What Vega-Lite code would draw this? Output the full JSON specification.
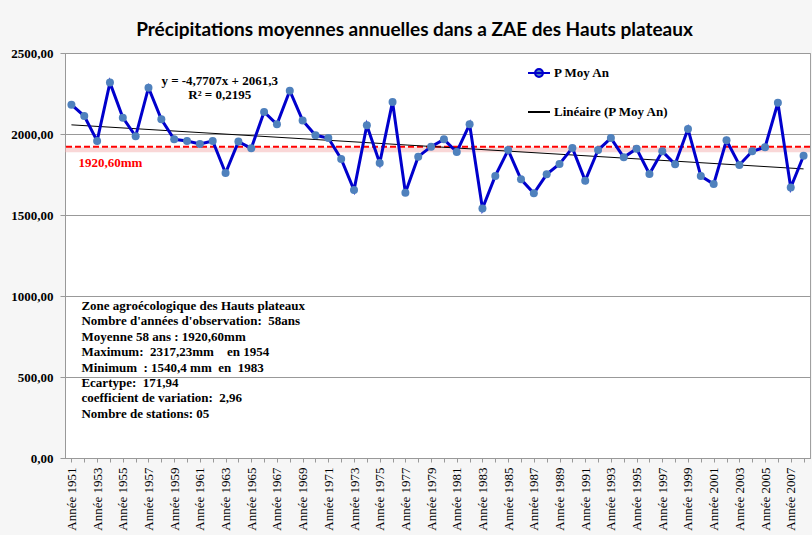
{
  "$schema": "https://vega.github.io/schema/vega-lite/v6.json",
  "width": 745,
  "height": 405,
  "autosize": {"type": "none"},
  "padding": {"left": 65, "top": 53, "right": 2, "bottom": 77},
  "background": "#f6f6f6",
  "title": {
    "text": "Précipitations moyennes annuelles dans a ZAE des Hauts  plateaux",
    "font": "Lato",
    "fontSize": 19,
    "fontWeight": "bold",
    "color": "#000000",
    "anchor": "middle",
    "offset": 7,
    "dx": -23
  },
  "config": {
    "view": {"fill": "#ffffff", "stroke": "#a0a0a0"}
  },
  "datasets": {
    "obs": [
      {"year": 1951, "p": 2181, "serie": "P Moy An"},
      {"year": 1952, "p": 2111, "serie": "P Moy An"},
      {"year": 1953, "p": 1957, "serie": "P Moy An"},
      {"year": 1954, "p": 2317.23, "serie": "P Moy An"},
      {"year": 1955, "p": 2101, "serie": "P Moy An"},
      {"year": 1956, "p": 1986, "serie": "P Moy An"},
      {"year": 1957, "p": 2286, "serie": "P Moy An"},
      {"year": 1958, "p": 2091, "serie": "P Moy An"},
      {"year": 1959, "p": 1967, "serie": "P Moy An"},
      {"year": 1960, "p": 1957, "serie": "P Moy An"},
      {"year": 1961, "p": 1938, "serie": "P Moy An"},
      {"year": 1962, "p": 1957, "serie": "P Moy An"},
      {"year": 1963, "p": 1759, "serie": "P Moy An"},
      {"year": 1964, "p": 1953, "serie": "P Moy An"},
      {"year": 1965, "p": 1912, "serie": "P Moy An"},
      {"year": 1966, "p": 2136, "serie": "P Moy An"},
      {"year": 1967, "p": 2060, "serie": "P Moy An"},
      {"year": 1968, "p": 2267, "serie": "P Moy An"},
      {"year": 1969, "p": 2084, "serie": "P Moy An"},
      {"year": 1970, "p": 1992, "serie": "P Moy An"},
      {"year": 1971, "p": 1975, "serie": "P Moy An"},
      {"year": 1972, "p": 1846, "serie": "P Moy An"},
      {"year": 1973, "p": 1654, "serie": "P Moy An"},
      {"year": 1974, "p": 2054, "serie": "P Moy An"},
      {"year": 1975, "p": 1821, "serie": "P Moy An"},
      {"year": 1976, "p": 2198, "serie": "P Moy An"},
      {"year": 1977, "p": 1638, "serie": "P Moy An"},
      {"year": 1978, "p": 1860, "serie": "P Moy An"},
      {"year": 1979, "p": 1922, "serie": "P Moy An"},
      {"year": 1980, "p": 1967, "serie": "P Moy An"},
      {"year": 1981, "p": 1889, "serie": "P Moy An"},
      {"year": 1982, "p": 2060, "serie": "P Moy An"},
      {"year": 1983, "p": 1540.4, "serie": "P Moy An"},
      {"year": 1984, "p": 1741, "serie": "P Moy An"},
      {"year": 1985, "p": 1901, "serie": "P Moy An"},
      {"year": 1986, "p": 1720, "serie": "P Moy An"},
      {"year": 1987, "p": 1634, "serie": "P Moy An"},
      {"year": 1988, "p": 1751, "serie": "P Moy An"},
      {"year": 1989, "p": 1815, "serie": "P Moy An"},
      {"year": 1990, "p": 1914, "serie": "P Moy An"},
      {"year": 1991, "p": 1712, "serie": "P Moy An"},
      {"year": 1992, "p": 1901, "serie": "P Moy An"},
      {"year": 1993, "p": 1975, "serie": "P Moy An"},
      {"year": 1994, "p": 1856, "serie": "P Moy An"},
      {"year": 1995, "p": 1909, "serie": "P Moy An"},
      {"year": 1996, "p": 1753, "serie": "P Moy An"},
      {"year": 1997, "p": 1893, "serie": "P Moy An"},
      {"year": 1998, "p": 1813, "serie": "P Moy An"},
      {"year": 1999, "p": 2031, "serie": "P Moy An"},
      {"year": 2000, "p": 1741, "serie": "P Moy An"},
      {"year": 2001, "p": 1691, "serie": "P Moy An"},
      {"year": 2002, "p": 1961, "serie": "P Moy An"},
      {"year": 2003, "p": 1809, "serie": "P Moy An"},
      {"year": 2004, "p": 1893, "serie": "P Moy An"},
      {"year": 2005, "p": 1918, "serie": "P Moy An"},
      {"year": 2006, "p": 2193, "serie": "P Moy An"},
      {"year": 2007, "p": 1669, "serie": "P Moy An"},
      {"year": 2008, "p": 1866, "serie": "P Moy An"}
    ],
    "trend": [
      {"year": 1951, "p": 2056.5, "serie": "Linéaire (P Moy An)"},
      {"year": 2008, "p": 1784.6, "serie": "Linéaire (P Moy An)"}
    ],
    "mean": [{"p": 1920.6}],
    "eq": [
      {"year": 1962, "p": 2329, "label": "y = -4,7707x + 2061,3"},
      {"year": 1962, "p": 2241, "label": "R² = 0,2195"}
    ],
    "meanlabel": [{"year": 1951, "p": 1823, "label": "1920,60mm"}],
    "stats": [
      {"year": 1951, "p": 975, "label": [
        "Zone agroécologique des Hauts plateaux",
        "Nombre d'années d'observation:\u00a0 58ans",
        "Moyenne 58 ans : 1920,60mm",
        "Maximum:\u00a0 2317,23mm\u00a0\u00a0\u00a0 en 1954",
        "Minimum\u00a0 : 1540,4 mm\u00a0 en\u00a0 1983",
        "Ecartype:\u00a0 171,94",
        "coefficient de variation:\u00a0 2,96",
        "Nombre de stations: 05"
      ]}
    ]
  },
  "layer": [
    {
      "data": {"name": "mean"},
      "mark": {"type": "rule", "color": "#f3b0b0", "strokeWidth": 5, "opacity": 0.5, "yOffset": 3},
      "encoding": {
        "y": {"field": "p", "type": "quantitative", "scale": {"domain": [0, 2500], "nice": false}}
      }
    },
    {
      "data": {"name": "mean"},
      "mark": {"type": "rule", "color": "#ff0000", "strokeWidth": 2, "strokeDash": [6, 3]},
      "encoding": {
        "y": {"field": "p", "type": "quantitative"}
      }
    },
    {
      "data": {"name": "trend"},
      "mark": {"type": "line", "strokeWidth": 1},
      "encoding": {
        "x": {"field": "year", "type": "ordinal"},
        "y": {"field": "p", "type": "quantitative"},
        "color": {"field": "serie", "type": "nominal"}
      }
    },
    {
      "data": {"name": "obs"},
      "mark": {"type": "line", "strokeWidth": 3},
      "encoding": {
        "x": {
          "field": "year",
          "type": "ordinal",
          "scale": {"type": "point", "padding": 0.5},
          "axis": {
            "title": null,
            "labelAngle": -90,
            "labelAlign": "right",
            "labelBaseline": "middle",
            "labelExpr": "datum.value % 2 == 1 ? 'Année ' + datum.value : ''",
            "labelFont": "Times New Roman, Liberation Serif, DejaVu Serif, serif",
            "labelFontSize": 13,
            "labelColor": "#000000",
            "labelOverlap": false,
            "labelPadding": 5,
            "tickSize": 4,
            "tickColor": "#999999",
            "domainColor": "#999999",
            "grid": false
          }
        },
        "y": {
          "field": "p",
          "type": "quantitative",
          "axis": {
            "title": null,
            "values": [0, 500, 1000, 1500, 2000, 2500],
            "labelExpr": "replace(format(datum.value, '.2f'), '.', ',')",
            "labelFont": "Times New Roman, Liberation Serif, DejaVu Serif, serif",
            "labelFontWeight": "bold",
            "labelFontSize": 13,
            "labelColor": "#000000",
            "labelPadding": 7,
            "tickSize": 5,
            "tickColor": "#999999",
            "domainColor": "#999999",
            "gridColor": "#999999",
            "gridWidth": 1
          }
        },
        "color": {
          "field": "serie",
          "type": "nominal",
          "scale": {"domain": ["P Moy An", "Linéaire (P Moy An)"], "range": ["#0000cc", "#000000"]},
          "legend": {
            "title": null,
            "orient": "none",
            "legendX": 462,
            "legendY": 8,
            "labelFont": "Times New Roman, Liberation Serif, DejaVu Serif, serif",
            "labelFontWeight": "bold",
            "labelFontSize": 13,
            "labelColor": "#000000",
            "labelOffset": 3,
            "symbolSize": 484,
            "rowPadding": 19,
            "symbolType": "stroke",
            "symbolStrokeWidth": 2,
            "encode": {
              "symbols": {
                "update": {
                  "shape": [
                    {"test": "datum.value === 'P Moy An'", "value": "M-1,0H1M0.36,0A0.36,0.36,0,1,1,-0.36,0A0.36,0.36,0,1,1,0.36,0Z"},
                    {"value": "stroke"}
                  ],
                  "fill": [
                    {"test": "datum.value === 'P Moy An'", "value": "#4f81bd"},
                    {"value": "transparent"}
                  ]
                }
              }
            }
          }
        }
      }
    },
    {
      "data": {"name": "obs"},
      "mark": {"type": "circle", "size": 64, "color": "#4f81bd", "opacity": 1},
      "encoding": {
        "x": {"field": "year", "type": "ordinal"},
        "y": {"field": "p", "type": "quantitative"}
      }
    },
    {
      "data": {"name": "eq"},
      "mark": {"type": "text", "font": "Times New Roman, Liberation Serif, DejaVu Serif, serif", "fontWeight": "bold", "fontSize": 13, "color": "#000000", "align": "center", "baseline": "middle", "dx": 7},
      "encoding": {
        "x": {"field": "year", "type": "ordinal"},
        "y": {"field": "p", "type": "quantitative"},
        "text": {"field": "label"}
      }
    },
    {
      "data": {"name": "meanlabel"},
      "mark": {"type": "text", "font": "Times New Roman, Liberation Serif, DejaVu Serif, serif", "fontWeight": "bold", "fontSize": 13, "color": "#ff0000", "align": "left", "baseline": "middle", "dx": 7},
      "encoding": {
        "x": {"field": "year", "type": "ordinal"},
        "y": {"field": "p", "type": "quantitative"},
        "text": {"field": "label"}
      }
    },
    {
      "data": {"name": "stats"},
      "mark": {"type": "text", "font": "Times New Roman, Liberation Serif, DejaVu Serif, serif", "fontWeight": "bold", "fontSize": 13, "color": "#000000", "align": "left", "baseline": "top", "dx": 10, "lineHeight": 15.4},
      "encoding": {
        "x": {"field": "year", "type": "ordinal"},
        "y": {"field": "p", "type": "quantitative"},
        "text": {"field": "label"}
      }
    }
  ]
}
